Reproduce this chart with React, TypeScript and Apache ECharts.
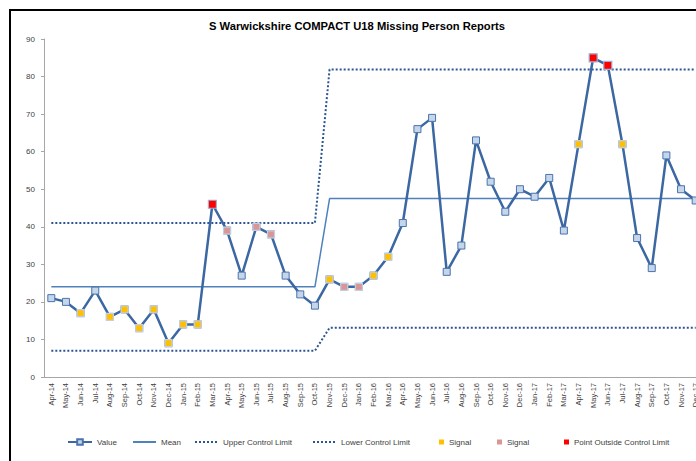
import React, { useEffect, useRef } from 'react';
import * as echarts from 'echarts';

const months = [
  'Apr-14', 'May-14', 'Jun-14', 'Jul-14', 'Aug-14', 'Sep-14', 'Oct-14', 'Nov-14', 'Dec-14', 'Jan-15', 'Feb-15', 'Mar-15',
  'Apr-15', 'May-15', 'Jun-15', 'Jul-15', 'Aug-15', 'Sep-15', 'Oct-15', 'Nov-15', 'Dec-15', 'Jan-16', 'Feb-16', 'Mar-16',
  'Apr-16', 'May-16', 'Jun-16', 'Jul-16', 'Aug-16', 'Sep-16', 'Oct-16', 'Nov-16', 'Dec-16', 'Jan-17', 'Feb-17', 'Mar-17',
  'Apr-17', 'May-17', 'Jun-17', 'Jul-17', 'Aug-17', 'Sep-17', 'Oct-17', 'Nov-17', 'Dec-17',
];

const values = [
  21, 20, 17, 23, 16, 18, 13, 18, 9, 14, 14, 46,
  39, 27, 40, 38, 27, 22, 19, 26, 24, 24, 27, 32,
  41, 66, 69, 28, 35, 63, 52, 44, 50, 48, 53, 39,
  62, 85, 83, 62, 37, 29, 59, 50, 47,
];

// '' none, 'Y' yellow signal, 'P' pink signal, 'R' outside control limit
const signalFlags = [
  '', '', 'Y', '', 'Y', 'Y', 'Y', 'Y', 'Y', 'Y', 'Y', 'R',
  'P', '', 'P', 'P', '', '', '', 'Y', 'P', 'P', 'Y', 'Y',
  '', '', '', '', '', '', '', '', '', '', '', '',
  'Y', 'R', 'R', 'Y', '', '', '', '', '',
];

const phaseStarts = [0, 19];
const phaseMeans = [24, 47.5];
const phaseUCL = [41, 81.9];
const phaseLCL = [7, 13.1];

const phaseOf = (i: number) => (i >= phaseStarts[1] ? 1 : 0);
const meanData = months.map((_, i) => phaseMeans[phaseOf(i)]);
const uclData = months.map((_, i) => phaseUCL[phaseOf(i)]);
const lclData = months.map((_, i) => phaseLCL[phaseOf(i)]);
const flagData = (f: string) => values.map((v, i) => (signalFlags[i] === f ? v : '-'));

const FONT = 'Liberation Sans';
const TXT = '#404040';

export default function App() {
  const ref = useRef<HTMLDivElement>(null);
  useEffect(() => {
    if (!ref.current) return;
    const chart = echarts.init(ref.current, undefined, { renderer: 'svg' });
    const legendBase = {
      top: 433,
      itemGap: 0,
      textStyle: { fontFamily: FONT, fontSize: 8, color: TXT },
      formatter: (n: string) => n.trim(),
    };
    const lineLegend = { ...legendBase, itemWidth: 23, itemHeight: 7, itemStyle: { opacity: 0 } };
    const dotLegend = { ...legendBase, itemWidth: 5, itemHeight: 5, itemStyle: { borderWidth: 0 } };
    chart.setOption({
      animation: false,
      backgroundColor: '#ffffff',
      title: {
        text: 'S Warwickshire COMPACT U18 Missing Person Reports',
        left: 352,
        textAlign: 'center',
        top: 15,
        textStyle: { fontFamily: FONT, fontSize: 11.2, fontWeight: 'bold', color: '#000000' },
      },
      graphic: [
        {
          type: 'rect',
          shape: { x: 10, y: 10, width: 720, height: 480 },
          style: { fill: 'none', stroke: '#000000', lineWidth: 2 },
          silent: true,
        },
      ],
      legend: [
        { ...legendBase, left: 62, itemWidth: 24, itemHeight: 7, data: ['Value'] },
        { ...lineLegend, left: 127, data: ['Mean'] },
        { ...lineLegend, left: 189, data: ['Upper Control Limit'] },
        { ...lineLegend, left: 307, data: ['Lower Control Limit'] },
        { ...dotLegend, left: 434, data: ['Signal'] },
        { ...dotLegend, left: 492, data: ['Signal '] },
        { ...dotLegend, left: 559, data: ['Point Outside Control Limit'] },
      ],
      grid: { left: 44, right: 9, top: 39, bottom: 84, containLabel: false },
      xAxis: {
        type: 'category',
        data: months,
        boundaryGap: true,
        axisLine: { lineStyle: { color: '#a6a6a6', width: 1 } },
        axisTick: { show: false },
        axisLabel: { rotate: 90, fontFamily: FONT, fontSize: 7.5, color: TXT, margin: 6, interval: 0 },
      },
      yAxis: {
        type: 'value',
        min: 0,
        max: 90,
        interval: 10,
        axisLine: { show: true, lineStyle: { color: '#a6a6a6', width: 1 } },
        axisTick: { show: true, length: 3, lineStyle: { color: '#a6a6a6' } },
        splitLine: { show: false },
        axisLabel: { fontFamily: FONT, fontSize: 8, color: TXT, margin: 9 },
      },
      series: [
        {
          name: 'Mean',
          type: 'line',
          data: meanData,
          symbol: 'none',
          lineStyle: { color: '#4f81bd', width: 1.5 },
          itemStyle: { color: '#4f81bd' },
          z: 2,
        },
        {
          name: 'Upper Control Limit',
          type: 'line',
          data: uclData,
          symbol: 'none',
          lineStyle: { color: '#2c5594', width: 2, type: [2, 2] },
          itemStyle: { color: '#2c5594' },
          z: 2,
        },
        {
          name: 'Lower Control Limit',
          type: 'line',
          data: lclData,
          symbol: 'none',
          lineStyle: { color: '#2c5594', width: 2, type: [2, 2] },
          itemStyle: { color: '#2c5594' },
          z: 2,
        },
        {
          name: 'Value',
          type: 'line',
          data: values,
          symbol: 'rect',
          symbolSize: 7,
          showAllSymbol: true,
          lineStyle: { color: '#3b67a2', width: 2.5 },
          itemStyle: { color: '#c5d5ea', borderColor: '#4a74ad', borderWidth: 1 },
          z: 3,
        },
        {
          name: 'Signal',
          type: 'scatter',
          data: flagData('Y'),
          symbol: 'rect',
          symbolSize: 7,
          itemStyle: { color: '#ffc000', borderColor: '#c3cfe0', borderWidth: 1.2, opacity: 1 },
          z: 4,
        },
        {
          name: 'Signal ',
          type: 'scatter',
          data: flagData('P'),
          symbol: 'rect',
          symbolSize: 7,
          itemStyle: { color: '#d99694', borderColor: '#c3cfe0', borderWidth: 1.2, opacity: 1 },
          z: 4,
        },
        {
          name: 'Point Outside Control Limit',
          type: 'scatter',
          data: flagData('R'),
          symbol: 'rect',
          symbolSize: 8,
          itemStyle: { color: '#ff0000', borderColor: '#9fb3d6', borderWidth: 1.2, opacity: 1 },
          z: 4,
        },
      ],
    });
    return () => chart.dispose();
  }, []);
  return (
    <div
      ref={ref}
      style={{ position: 'fixed', left: 0, top: 0, width: 712, height: 461, background: '#fff' }}
    />
  );
}
